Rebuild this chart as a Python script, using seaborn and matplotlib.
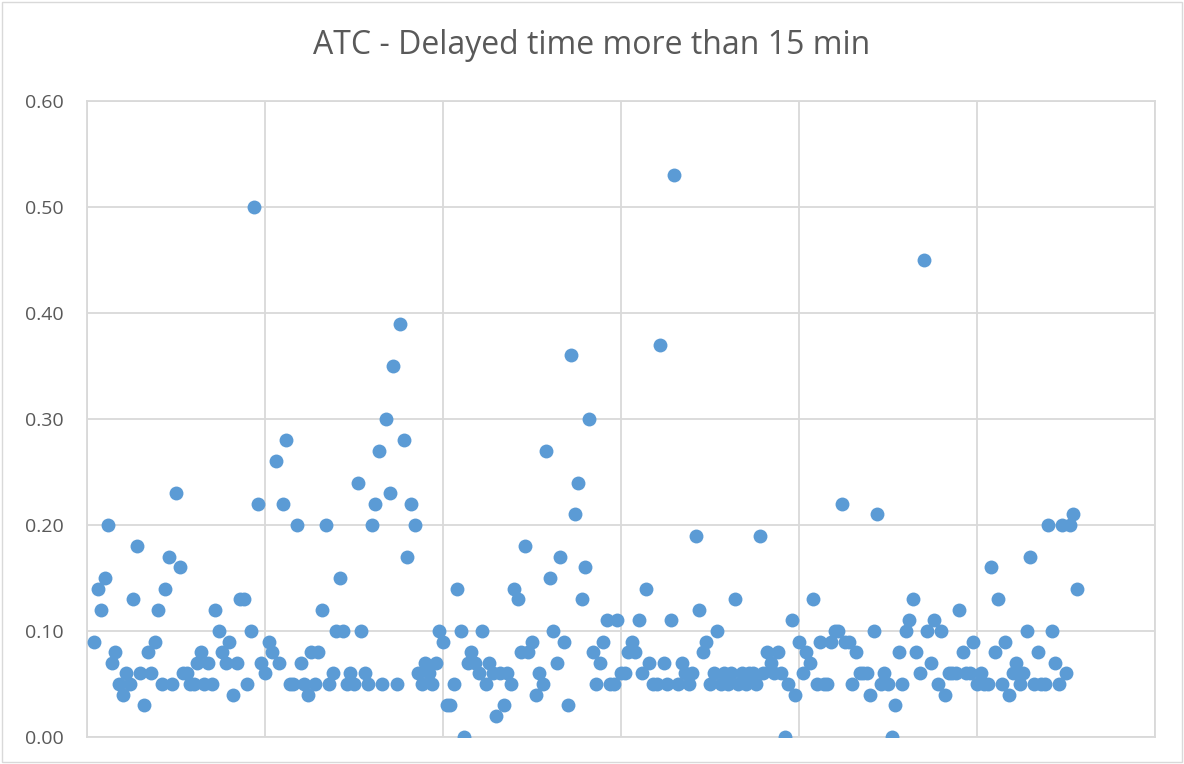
import numpy as np
import pandas as pd
import seaborn as sns
import matplotlib.pyplot as plt

# delayed-time ratios in plotting order
delay = [
    0.09, 0.14, 0.12, 0.15, 0.20, 0.07, 0.08, 0.05, 0.04, 0.06,
    0.05, 0.13, 0.18, 0.06, 0.03, 0.08, 0.06, 0.09, 0.12, 0.05,
    0.14, 0.17, 0.05, 0.23, 0.16, 0.06, 0.06, 0.05, 0.05, 0.07,
    0.08, 0.05, 0.07, 0.05, 0.12, 0.10, 0.08, 0.07, 0.09, 0.04,
    0.07, 0.13, 0.13, 0.05, 0.10, 0.50, 0.22, 0.07, 0.06, 0.09,
    0.08, 0.26, 0.07, 0.22, 0.28, 0.05, 0.05, 0.20, 0.07, 0.05,
    0.04, 0.08, 0.05, 0.08, 0.12, 0.20, 0.05, 0.06, 0.10, 0.15,
    0.10, 0.05, 0.06, 0.05, 0.24, 0.10, 0.06, 0.05, 0.20, 0.22,
    0.27, 0.05, 0.30, 0.23, 0.35, 0.05, 0.39, 0.28, 0.17, 0.22,
    0.20, 0.06, 0.05, 0.07, 0.06, 0.05, 0.07, 0.10, 0.09, 0.03,
    0.03, 0.05, 0.14, 0.10, 0.00, 0.07, 0.08, 0.07, 0.06, 0.10,
    0.05, 0.07, 0.06, 0.02, 0.06, 0.03, 0.06, 0.05, 0.14, 0.13,
    0.08, 0.18, 0.08, 0.09, 0.04, 0.06, 0.05, 0.27, 0.15, 0.10,
    0.07, 0.17, 0.09, 0.03, 0.36, 0.21, 0.24, 0.13, 0.16, 0.30,
    0.08, 0.05, 0.07, 0.09, 0.11, 0.05, 0.05, 0.11, 0.06, 0.06,
    0.08, 0.09, 0.08, 0.11, 0.06, 0.14, 0.07, 0.05, 0.05, 0.37,
    0.07, 0.05, 0.11, 0.53, 0.05, 0.07, 0.06, 0.05, 0.06, 0.19,
    0.12, 0.08, 0.09, 0.05, 0.06, 0.10, 0.05, 0.06, 0.05, 0.06,
    0.13, 0.05, 0.06, 0.05, 0.06, 0.06, 0.05, 0.19, 0.06, 0.08,
    0.07, 0.06, 0.08, 0.06, 0.00, 0.05, 0.11, 0.04, 0.09, 0.06,
    0.08, 0.07, 0.13, 0.05, 0.09, 0.05, 0.05, 0.09, 0.10, 0.10,
    0.22, 0.09, 0.09, 0.05, 0.08, 0.06, 0.06, 0.06, 0.04, 0.10,
    0.21, 0.05, 0.06, 0.05, 0.00, 0.03, 0.08, 0.05, 0.10, 0.11,
    0.13, 0.08, 0.06, 0.45, 0.10, 0.07, 0.11, 0.05, 0.10, 0.04,
    0.06, 0.06, 0.06, 0.12, 0.08, 0.06, 0.06, 0.09, 0.05, 0.06,
    0.05, 0.05, 0.16, 0.08, 0.13, 0.05, 0.09, 0.04, 0.06, 0.07,
    0.05, 0.06, 0.10, 0.17, 0.05, 0.08, 0.05, 0.05, 0.20, 0.10,
    0.07, 0.05, 0.20, 0.06, 0.20, 0.21, 0.14,
]
y_ticks = [0.0, 0.1, 0.2, 0.3, 0.4, 0.5, 0.6]

df = pd.DataFrame({"obs": np.arange(len(delay)) + 2, "delay": delay})

sns.set_style("white")
plt.rcParams["font.family"] = ["Open Sans", "DejaVu Sans"]

fig = plt.figure(figsize=(11.84, 7.64), dpi=100)
ax = fig.add_axes([87 / 1184, 1 - 737 / 764, (1155 - 87) / 1184, (737 - 101) / 764])

sns.scatterplot(data=df, x="obs", y="delay", ax=ax, color="#5B9BD5",
                s=100, linewidth=0, zorder=3)

grid = "#D9D9D9"
ax.set_xlim(0, 300)
ax.set_ylim(0, 0.6)
ax.set_xticks(range(0, 301, 50))
ax.set_xticklabels([])
ax.set_yticks(y_ticks)
ax.set_yticklabels([f"{t:.2f}" for t in y_ticks], color="#595959", fontsize=14)
ax.tick_params(length=0, pad=17)
ax.grid(True, color=grid, linewidth=1.3)
for sp in ax.spines.values():
    sp.set_color(grid)
    sp.set_linewidth(1.3)
ax.set_xlabel("")
ax.set_ylabel("")

fig.text(0.5, 1 - 46 / 764, "ATC - Delayed time more than 15 min",
         ha="center", va="center", fontsize=23, color="#595959")

# thin chart-area border like the spreadsheet export
fig.patches.append(plt.Rectangle((0.002, 0.002), 0.996, 0.996, transform=fig.transFigure,
                                 fill=False, edgecolor=grid, linewidth=1))

fig.savefig("out.png", dpi=100)
